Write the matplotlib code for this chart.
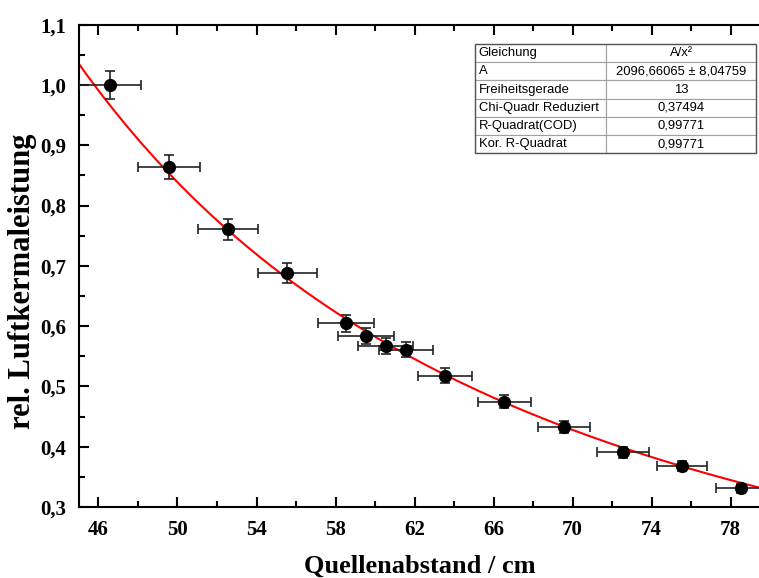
import numpy as np
import matplotlib.pyplot as plt
from matplotlib.ticker import MultipleLocator, FuncFormatter
from matplotlib.patches import Rectangle

# Messwerte
abstand = np.array([46.58, 49.59, 52.57, 55.55, 58.53, 59.55, 60.54, 61.56,
                    63.55, 66.55, 69.56, 72.54, 75.53, 78.54])
kerma = np.array([1.000, 0.864, 0.761, 0.688, 0.605, 0.584, 0.567, 0.561,
                  0.518, 0.475, 0.432, 0.391, 0.368, 0.331])
abstand_err = np.array([1.58, 1.57, 1.53, 1.50, 1.43, 1.42, 1.38, 1.38,
                        1.37, 1.36, 1.32, 1.31, 1.28, 1.30])
kerma_err = np.array([0.023, 0.020, 0.0175, 0.016, 0.014, 0.0134, 0.013, 0.0129,
                      0.0119, 0.0109, 0.0099, 0.009, 0.0085, 0.0076])

A_fit = 2096.66065

tab_names = ["Gleichung", "A", "Freiheitsgerade", "Chi-Quadr Reduziert",
             "R-Quadrat(COD)", "Kor. R-Quadrat"]
tab_values = ["A/x²", "2096,66065 ± 8,04759", "13", "0,37494", "0,99771", "0,99771"]

fig = plt.figure(figsize=(7.59, 5.78), dpi=100)
ax = fig.add_axes([0.1037, 0.1228, 0.898, 0.8345])

xx = np.linspace(45, 79.5, 300)
ax.plot(xx, A_fit / xx**2, color="red", lw=1.5, zorder=2)
ax.errorbar(abstand, kerma, xerr=abstand_err, yerr=kerma_err, fmt="o",
            color="black", ecolor="#222222", ms=8.5, elinewidth=1.2,
            capsize=3.5, capthick=1.2, zorder=3)

ax.set_xlim(45, 79.5)
ax.set_ylim(0.3, 1.1)
ax.set_xticks(np.arange(46, 79, 4))
ax.xaxis.set_minor_locator(MultipleLocator(2))
ax.yaxis.set_major_locator(MultipleLocator(0.1))
ax.yaxis.set_minor_locator(MultipleLocator(0.05))
ax.yaxis.set_major_formatter(FuncFormatter(lambda v, p: f"{v:.1f}".replace(".", ",")))

for s in ["left", "bottom", "top"]:
    ax.spines[s].set_linewidth(1.5)
ax.spines["right"].set_visible(False)
ax.tick_params(which="both", direction="in", top=True, right=False, width=1.5)
ax.tick_params(which="major", length=7, pad=9)
ax.tick_params(which="minor", length=4)
for lab in ax.get_xticklabels() + ax.get_yticklabels():
    lab.set_fontfamily("Liberation Serif")
    lab.set_fontweight("bold")
    lab.set_fontsize(15)

ax.set_xlabel("Quellenabstand / cm", family="Liberation Serif", weight="bold",
              fontsize=19, labelpad=11)
ax.set_ylabel("rel. Luftkermaleistung", family="Liberation Serif", weight="bold",
              fontsize=22)
ax.yaxis.set_label_coords(-0.061, 0.467)

# Fit-Tabelle
tb = ax.table(cellText=[[n, v] for n, v in zip(tab_names, tab_values)],
              colWidths=[0.467, 0.533], bbox=[0.581, 0.7334, 0.4127, 0.2266],
              zorder=5)
tb.auto_set_font_size(False)
for (r, c), cell in tb.get_celld().items():
    cell.set_edgecolor("#a0a0a0")
    cell.set_linewidth(0.8)
    cell.get_text().set_fontsize(9.4)
    cell.get_text().set_fontfamily("Liberation Sans")
    if c == 0:
        cell.get_text().set_ha("left")
        cell.PAD = 0.03
    else:
        cell.get_text().set_ha("center")
ax.add_patch(Rectangle((0.581, 0.7334), 0.4127, 0.2266, transform=ax.transAxes,
                       fill=False, edgecolor="#555555", lw=1.0, zorder=6))

fig.savefig("out.png", dpi=100)
